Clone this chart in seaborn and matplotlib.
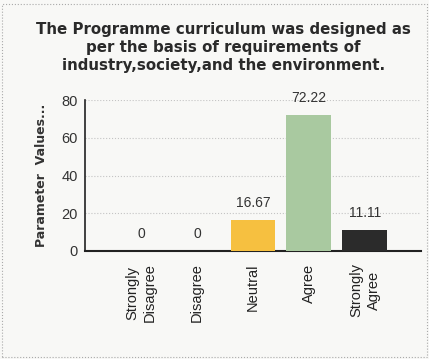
import matplotlib
matplotlib.use('Agg')
import matplotlib.pyplot as plt
import seaborn as sns
import pandas as pd

# Data
categories = ['Strongly\nDisagree', 'Disagree', 'Neutral', 'Agree', 'Strongly\nAgree']
values = [0, 0, 16.67, 72.22, 11.11]
labels = ['0', '0', '16.67', '72.22', '11.11']
colors = ['#f2c14a', '#f2c14a', '#f6c040', '#a9c9a0', '#2b2b2b']

df = pd.DataFrame({'cat': categories, 'val': values})

sns.set_style('white')
plt.rcParams['font.family'] = ['Liberation Sans', 'DejaVu Sans']

fig = plt.figure(figsize=(4.29, 3.59), dpi=100, facecolor='#f8f8f6')
ax = fig.add_axes([0.198, 0.301, 0.783, 0.42])
ax.set_facecolor('#f8f8f6')

sns.barplot(data=df, x='cat', y='val', hue='cat', palette=colors, legend=False,
            width=0.8, saturation=1, linewidth=0, ax=ax, zorder=3)

for i, (v, t) in enumerate(zip(values, labels)):
    ax.annotate(t, (i, v), xytext=(0, 7), textcoords='offset points',
                ha='center', va='bottom', fontsize=10, color='#333333')

ax.set_xlim(-1, 5)
ax.set_ylim(0, 80)
ax.set_yticks([0, 20, 40, 60, 80])
ax.yaxis.grid(True, linestyle=':', color='#c4c4c4', linewidth=0.8, zorder=0)
ax.set_xticks(range(5))
ax.set_xticklabels(categories, rotation=90, fontsize=10.5, linespacing=1.35, color='#222222')
ax.tick_params(axis='y', labelsize=10.5, length=3, color='#333333', pad=2, labelcolor='#333333')
ax.tick_params(axis='x', length=3, color='#333333', pad=6)

for s in ['top', 'right']:
    ax.spines[s].set_visible(False)
ax.spines['left'].set_color('#222222')
ax.spines['bottom'].set_color('#222222')
ax.spines['left'].set_linewidth(1.2)
ax.spines['bottom'].set_linewidth(1.5)

ax.set_xlabel('')
ax.set_ylabel('Parameter  Values...', fontsize=9, fontweight='bold',
              family=['DejaVu Sans'], color='#333333')
ax.yaxis.set_label_coords(-0.11, 0.5)

fig.text(0.52, 0.94, 'The Programme curriculum was designed as\nper the basis of requirements of\nindustry,society,and the environment.',
         ha='center', va='top', fontsize=10.8, fontweight='bold', family=['DejaVu Sans'],
         color='#2a2a2a', linespacing=1.25)

# dotted frame round the picture
border = plt.Rectangle((0.005, 0.005), 0.99, 0.985, transform=fig.transFigure,
                       fill=False, linestyle=':', edgecolor='#aaaaaa', linewidth=0.8)
fig.patches.append(border)

fig.savefig('out.png', dpi=100, facecolor=fig.get_facecolor())
